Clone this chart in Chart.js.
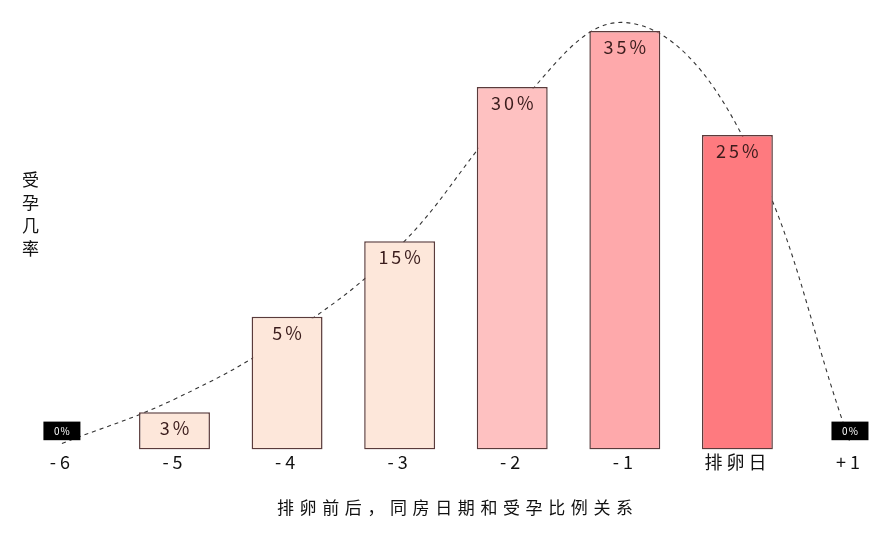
<!DOCTYPE html>
<html>
<head>
<meta charset="utf-8">
<script src="https://cdn.jsdelivr.net/npm/chart.js@4"></script>
<style>
  html, body { margin: 0; padding: 0; background: #fff; }
  #wrap { position: relative; width: 895px; height: 540px; }
  .axis-title { position: absolute; font-family: "Noto Sans CJK SC", sans-serif; font-size: 17px; color: #111; line-height: 1; white-space: nowrap; }
  #yTitle { left: 22px; top: 171px; writing-mode: vertical-rl; text-orientation: upright; letter-spacing: 6px; }
  #xTitle { left: 277px; top: 498px; letter-spacing: 5.6px; }
</style>
</head>
<body>
<div id="wrap">
  <canvas id="rateChart" width="895" height="540"></canvas>
  <div class="axis-title" id="yTitle">受孕几率</div>
  <div class="axis-title" id="xTitle">排卵前后，同房日期和受孕比例关系</div>
</div>
<script>
// days relative to ovulation
var dayOffsets = [-6, -5, -4, -3, -2, -1, 0, 1];
var dayLabels = ['-6', '-5', '-4', '-3', '-2', '-1', '排卵日', '+1'];
// printed rates
var rateLabels = ['0%', '3%', '5%', '15%', '30%', '35%', '25%', '0%'];
// bar heights as drawn in the picture (not to scale with the printed rates)
var barHeights = [null, 3.1, 11.1, 17.4, 30.3, 35, 26.3, null];
// dashed trend curve
var curveValues = [0.5, 4.2, 9.5, 17.0, 28.3, 35.7, 27.0, 0.6];
var barColors = ['#fde7da', '#fde7da', '#fde7da', '#fde7da', '#fec1c1', '#fea9ab', '#fe7a7f', '#fde7da'];

(function() {
    "use strict";

    var labelPlugin = {
        id: 'rateLabels',
        beforeDraw: function(chart) {
            chart.ctx.letterSpacing = '4px'; // spaced tick labels
        },
        afterDatasetsDraw: function(chart) {
            var ctx = chart.ctx;
            var xs = chart.scales.x, ys = chart.scales.y;
            var bars = chart.getDatasetMeta(0).data;
            ctx.save();
            ctx.textAlign = 'center';
            ctx.textBaseline = 'middle';
            dayOffsets.forEach(function(d, i) {
                if (barHeights[i] !== null) {
                    var bar = bars[i];
                    ctx.font = '18px "Noto Sans CJK SC", sans-serif';
                    ctx.letterSpacing = '3px';
                    ctx.fillStyle = '#3a1c1c';
                    ctx.fillText(rateLabels[i], bar.x + 1.5, bar.y + 16);
                } else {
                    // black tag for the zero days
                    var x = xs.getPixelForValue(d);
                    var y = ys.getPixelForValue(0) - 18.5;
                    ctx.fillStyle = '#000';
                    ctx.fillRect(x - 18.5, y - 9.3, 37, 18.6);
                    ctx.font = '10px "Noto Sans CJK SC", sans-serif';
                    ctx.letterSpacing = '1px';
                    ctx.fillStyle = '#fff';
                    ctx.fillText(rateLabels[i], x + 0.5, y);
                }
            });
            ctx.restore();
        }
    };

    var ctx = document.getElementById('rateChart').getContext('2d');

    new Chart(ctx, {
        type: 'bar',
        data: {
            datasets: [{
                type: 'bar',
                data: dayOffsets.map(function(d, i) { return { x: d, y: barHeights[i] }; }),
                backgroundColor: barColors,
                borderColor: '#5a3b3b',
                borderWidth: 1.5,
                borderSkipped: false,
                barPercentage: 0.63,
                categoryPercentage: 1,
                order: 1
            }, {
                type: 'line',
                data: dayOffsets.map(function(d, i) { return { x: d, y: curveValues[i] }; }),
                borderColor: '#333',
                borderWidth: 1.1,
                borderDash: [4, 4],
                pointRadius: 0,
                tension: 0.4,
                fill: false,
                order: 2
            }]
        },
        options: {
            responsive: false,
            animation: false,
            layout: { padding: { top: 1, bottom: 65, left: 0, right: 0 } },
            plugins: { legend: { display: false }, tooltip: { enabled: false } },
            scales: {
                x: {
                    type: 'linear',
                    offset: false,
                    min: -6.55,
                    max: 1.40,
                    grid: { display: false, drawTicks: false },
                    border: { display: false },
                    afterBuildTicks: function(axis) {
                        axis.ticks = dayOffsets.map(function(d) { return { value: d }; });
                    },
                    ticks: {
                        autoSkip: false,
                        maxRotation: 0,
                        padding: 2,
                        color: '#111',
                        font: { family: '"Noto Sans CJK SC", sans-serif', size: 18 },
                        callback: function(value, index) { return dayLabels[index]; }
                    }
                },
                y: {
                    display: false,
                    min: 0,
                    max: 37.5
                }
            }
        },
        plugins: [labelPlugin]
    });
})();
</script>
</body>
</html>
